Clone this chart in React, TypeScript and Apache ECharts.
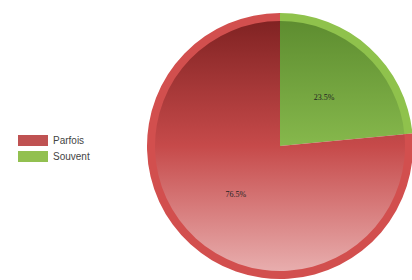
import React, { useEffect, useRef } from "react";
import * as echarts from "echarts";

const categories = ["Souvent", "Parfois"];
const values = [23.5, 76.5];
const legendOrder = ["Parfois", "Souvent"];
const ringColors: Record<string, string> = { Souvent: "#8fc24c", Parfois: "#d24f4e" };
const legendColors: Record<string, string> = { Souvent: "#92c050", Parfois: "#bf5252" };

export default function App() {
  const ref = useRef<HTMLDivElement>(null);
  useEffect(() => {
    if (!ref.current) return;
    const chart = echarts.init(ref.current, undefined, { renderer: "svg" });
    const cx = 280;
    const cy = 146;
    const R = 133;
    const grad = (stops: [number, string][]) => ({
      type: "linear",
      global: true,
      x: cx,
      y: cy - R,
      x2: cx,
      y2: cy + R,
      colorStops: stops.map(([offset, color]) => ({ offset, color })),
    });
    const innerColors: Record<string, any> = {
      Souvent: grad([
        [0, "#5b8a2e"],
        [0.5, "#86b84c"],
        [1, "#a8d870"],
      ]),
      Parfois: grad([
        [0, "#7c2020"],
        [0.5, "#c64a4a"],
        [1, "#eab4b4"],
      ]),
    };
    chart.setOption({
      animation: false,
      legend: {
        orient: "vertical",
        left: 13,
        top: 130,
        itemWidth: 30,
        itemHeight: 11,
        itemGap: 5,
        icon: "rect",
        textStyle: { fontFamily: "Liberation Sans", fontSize: 10, color: "#444" },
        data: legendOrder.map((n) => ({ name: n, itemStyle: { color: legendColors[n] } })),
      },
      series: [
        {
          type: "pie",
          center: [cx, cy],
          radius: [R - 9, R],
          startAngle: 90,
          clockwise: true,
          silent: true,
          label: { show: false },
          labelLine: { show: false },
          data: categories.map((n, i) => ({ name: n, value: values[i], itemStyle: { color: ringColors[n] } })),
        },
        {
          type: "pie",
          center: [cx, cy],
          radius: [0, R - 8],
          startAngle: 90,
          clockwise: true,
          silent: true,
          label: {
            show: true,
            position: "inside",
            fontFamily: "Liberation Serif",
            fontSize: 8,
            color: "#222",
            formatter: (p: any) => p.value.toFixed(1) + "%",
          },
          labelLine: { show: false },
          data: categories.map((n, i) => ({ name: n, value: values[i], itemStyle: { color: innerColors[n] } })),
        },
      ],
    });
    return () => chart.dispose();
  }, []);
  return <div ref={ref} style={{ width: 412, height: 280, position: "absolute", left: 0, top: 0 }} />;
}
